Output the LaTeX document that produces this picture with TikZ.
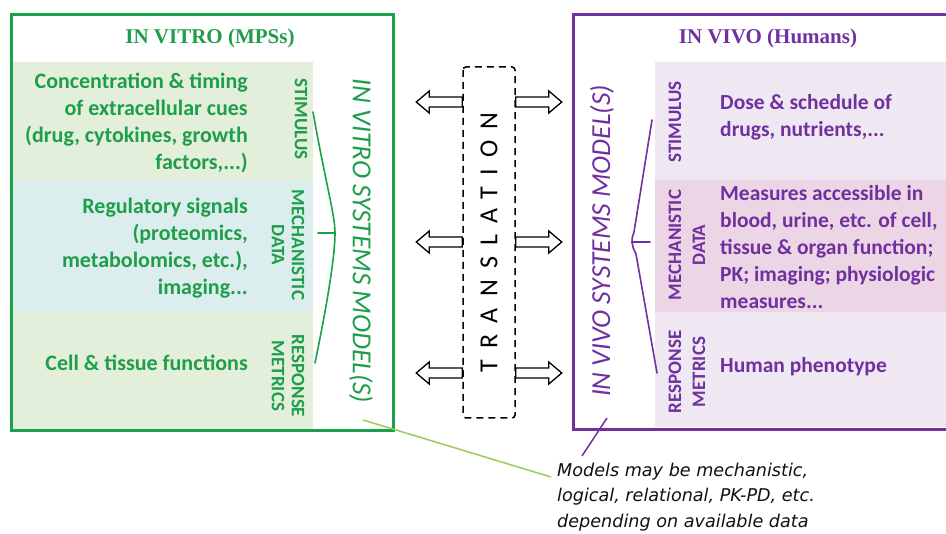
\documentclass[tikz,border=0pt]{standalone}
\usepackage{fontspec}
\setmainfont{Carlito}
\newfontfamily\titlefont{Liberation Serif}
\newfontfamily\notefont{DejaVu Sans}
\newfontfamily\transfont[LetterSpace=43]{Carlito}
\definecolor{vgreen}{HTML}{1E9E4A}
\definecolor{vgreenline}{HTML}{1BA04C}
\definecolor{gpanel}{HTML}{E3EFDA}
\definecolor{bpanel}{HTML}{DCEDEE}
\definecolor{vpurple}{HTML}{7030A0}
\definecolor{ppanel}{HTML}{ECD6E6}
\definecolor{lpanel}{HTML}{EFE8F3}
\definecolor{lightgreen}{HTML}{9BCB5A}
\definecolor{notegray}{HTML}{111111}
\tikzset{
  gtext/.style={text=vgreen, font=\fontsize{22}{27}\selectfont\bfseries, align=right, anchor=east, inner sep=0pt},
  ptext/.style={text=vpurple, font=\fontsize{21.5}{27}\selectfont\bfseries, align=left, anchor=west, inner sep=0pt},
  glabel/.style={text=vgreen, font=\fontsize{19}{20}\selectfont\bfseries, align=center, rotate=-90, inner sep=0pt},
  plabel/.style={text=vpurple, font=\fontsize{19}{24}\selectfont\bfseries, align=center, rotate=90, inner sep=0pt},
  modeltext/.style={font=\fontsize{27.5}{30}\selectfont\itshape, inner sep=0pt},
  titletext/.style={font=\titlefont\fontsize{21}{24}\selectfont\bfseries, inner sep=0pt},
  bracketline/.style={line width=1.6pt, line cap=round},
  harrow/.pic={\draw[line width=1.3pt, line join=miter, fill=white] (0,-5) -- (-33,-5) -- (-33,-11) -- (-46,0) -- (-33,11) -- (-33,5) -- (0,5) -- cycle;}
}
\begin{document}
\begin{tikzpicture}[x=1pt,y=-1pt]
\useasboundingbox (0,0) rectangle (946,534);
\clip (0,0) rectangle (946,534);
\fill[white] (0,0) rectangle (946,534);

% ---------- left (in vitro) ----------
\fill[gpanel] (12,62) rectangle (313,180);
\fill[bpanel] (12,180) rectangle (313,312);
\fill[gpanel] (12,312) rectangle (313,430);
\draw[vgreenline, line width=3pt] (11,15) rectangle (393,431);

\node[titletext, text=vgreen] (ltitle) at (210,38) {IN VITRO (MPSs)};

\node[gtext] (lstim) at (248,123) {Concentration \& timing\\of extracellular cues\\(drug, cytokines, growth\\factors,...)};
\node[gtext] (lmech) at (248,248) {Regulatory signals\\(proteomics,\\metabolomics, etc.),\\imaging...};
\node[gtext] (lresp) at (248,363) {Cell \& tissue functions};

\node[glabel] (lstiml) at (301,119) {STIMULUS};
\node[glabel] (lmechl) at (288,245) {MECHANISTIC\\DATA};
\node[glabel] (lrespl) at (288,376) {RESPONSE\\METRICS};

\coordinate (lbt) at (313,112);
\coordinate (lba) at (335,233);
\coordinate (lbb) at (315,363);
\coordinate (lbk) at (318,233);
\draw[vgreenline, bracketline] (lbt) .. controls (326,185) and (335,215) .. (lba)
   .. controls (335,255) and (328,300) .. (lbb);
\draw[vgreenline, bracketline] (lbk) -- (lba);

\node[modeltext, text=vgreen, rotate=-90] (lmodel) at (361,241) {IN VITRO SYSTEMS MODEL(S)};

% ---------- right (in vivo) ----------
\fill[lpanel] (655,62) rectangle (946,180);
\fill[ppanel] (655,180) rectangle (946,312);
\fill[lpanel] (655,312) rectangle (946,427);
\draw[vpurple, line width=3pt] (573,15) rectangle (960,430);

\node[titletext, text=vpurple] (rtitle) at (768,38) {IN VIVO (Humans)};

\node[ptext] (rstim) at (720,117) {Dose \& schedule of\\drugs, nutrients,...};
\node[ptext] (rmech) at (720,247) {Measures accessible in\\blood, urine, etc. of cell,\\tissue \& organ function;\\PK; imaging; physiologic\\measures...};
\node[ptext] (rresp) at (720,367) {Human phenotype};

\node[plabel] (rstiml) at (675,122) {STIMULUS};
\node[plabel] (rmechl) at (687,245) {MECHANISTIC\\DATA};
\node[plabel] (rrespl) at (687,372) {RESPONSE\\METRICS};

\coordinate (rbt) at (652,120);
\coordinate (rba) at (632,242);
\coordinate (rbb) at (657,373);
\coordinate (rbk) at (650,242);
\draw[vpurple, bracketline] (rbt) -- (634,232) .. controls (632,238) .. (rba)
   .. controls (633,248) .. (636,254) -- (rbb);
\draw[vpurple, bracketline] (rba) -- (rbk);

\node[modeltext, text=vpurple, rotate=90] (rmodel) at (602,241) {IN VIVO SYSTEMS MODEL(S)};

% ---------- translation ----------
\node[draw, dashed, dash pattern=on 7pt off 5pt, line width=1.5pt, rounded corners=3pt,
      minimum width=351pt, minimum height=52pt, rotate=90,
      font=\transfont\fontsize{26}{28}\selectfont] (trans) at (489,242.5) {TRANSLATION};

\foreach \yy in {102,242,373}{
  \pic at (trans.north |- 0,\yy) {harrow};
  \pic[rotate=180] at (trans.south |- 0,\yy) {harrow};
}

% ---------- annotation ----------
\node[anchor=west, align=left, inner sep=0pt, text=notegray, font=\notefont\itshape\fontsize{17.6}{25.5}\selectfont] (note) at (557,497)
  {Models may be mechanistic,\\logical, relational, PK-PD, etc.\\depending on available data};
\coordinate (gstart) at (363,420);
\coordinate (pstart) at (607,418);
\draw[lightgreen, line width=1.5pt] (gstart) -- (551,477);
\draw[vpurple, line width=1.5pt] (pstart) -- (582,456);
\end{tikzpicture}
\end{document}
